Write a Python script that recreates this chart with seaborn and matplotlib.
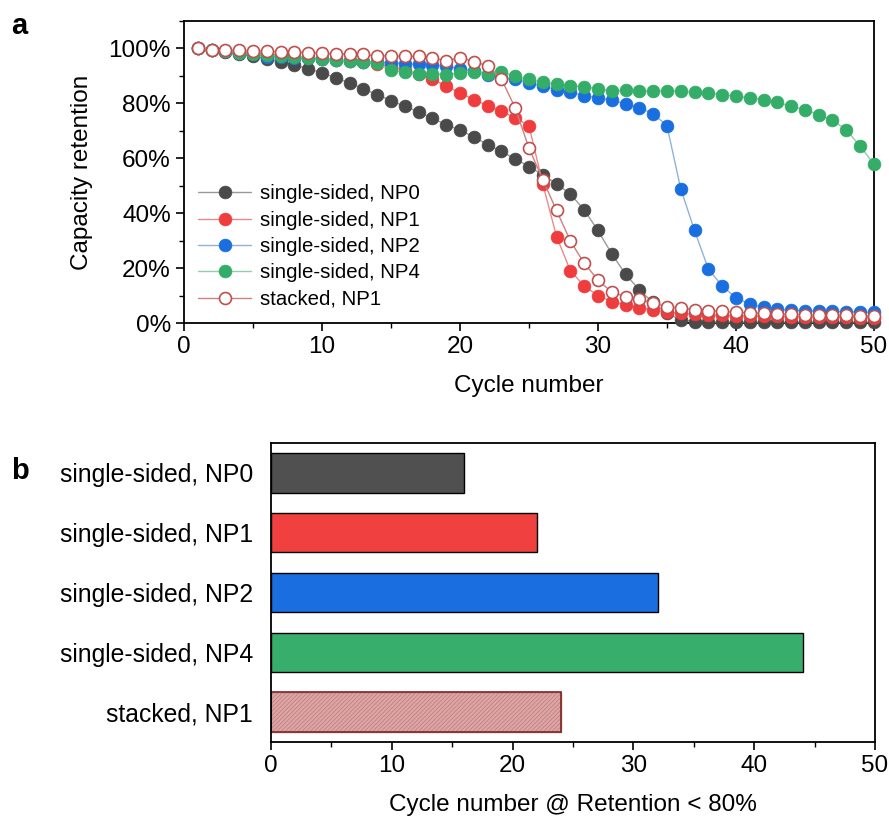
import matplotlib
matplotlib.use("Agg")
import matplotlib.pyplot as plt
import seaborn as sns
import numpy as np
import pandas as pd
from matplotlib.ticker import PercentFormatter, MultipleLocator
from matplotlib.patches import Rectangle

sns.set_style("ticks")
plt.rcParams['font.family'] = ['Liberation Sans', 'DejaVu Sans']
plt.rcParams['hatch.linewidth'] = 0.5
for k in ['text.color', 'axes.labelcolor', 'xtick.color', 'ytick.color', 'axes.edgecolor']:
    plt.rcParams[k] = 'black'

cycles = list(range(1, 51))

np0 = [100, 99.3, 98.6, 97.8, 97.2, 96.2, 95.1, 93.9, 92.6, 91.1,
       89.3, 87.5, 85.3, 83.2, 81.0, 78.9, 76.9, 74.5, 72.3, 70.2,
       67.8, 65.0, 62.5, 59.8, 57.0, 54.0, 50.7, 47.0, 41.2, 33.7,
       25.2, 17.8, 12.0, 7.5, 3.5, 1.2, 0.5, 0.4, 0.3, 0.3,
       0.3, 0.3, 0.3, 0.3, 0.3, 0.3, 0.3, 0.3, 0.3, 0.3]

np1 = [100, 99.6, 99.2, 98.8, 98.4, 98.0, 97.5, 97.0, 96.6, 96.2,
       95.8, 95.4, 95.0, 94.3, 93.4, 92.2, 90.6, 88.9, 86.3, 83.8,
       81.4, 79.2, 77.1, 74.7, 71.9, 50.7, 31.5, 19.1, 13.5, 10.0,
       7.8, 6.6, 5.6, 4.7, 4.0, 3.5, 3.2, 3.0, 2.8, 2.7,
       2.6, 2.5, 2.4, 2.3, 2.2, 2.2, 2.1, 2.1, 2.0, 2.0]

np2 = [100, 99.4, 98.9, 98.4, 97.9, 97.0, 96.9, 96.7, 96.4, 96.0,
       95.7, 95.4, 95.2, 95.0, 94.8, 94.5, 94.2, 94.0, 93.6, 92.6,
       91.7, 90.5, 89.3, 88.7, 87.5, 86.3, 85.0, 84.1, 82.8, 82.0,
       81.1, 79.9, 78.4, 76.2, 71.9, 48.9, 33.7, 19.7, 13.5, 9.2,
       6.9, 5.7, 5.1, 4.7, 4.5, 4.3, 4.2, 4.1, 4.0, 3.9]

np4 = [100, 99.5, 99.0, 98.5, 98.0, 97.6, 97.2, 96.8, 96.4, 96.0,
       95.7, 95.3, 95.0, 94.6, 92.1, 91.4, 90.6, 90.8, 90.5, 91.0,
       91.4, 90.7, 91.5, 89.9, 88.7, 87.7, 86.9, 86.5, 86.0, 85.3,
       84.5, 84.7, 84.6, 84.4, 84.6, 84.4, 84.1, 83.8, 83.2, 82.6,
       82.0, 81.4, 80.4, 78.9, 77.7, 75.9, 73.8, 70.4, 64.4, 57.9]

stacked_np1 = [100, 99.6, 99.4, 99.3, 99.2, 98.9, 98.8, 98.6, 98.5, 98.2,
               98.1, 97.9, 97.8, 97.3, 97.3, 97.1, 97.1, 96.7, 95.4, 96.7,
               95.2, 93.7, 88.9, 78.4, 63.7, 52.2, 41.0, 29.9, 21.8, 15.7,
               11.2, 9.6, 8.6, 7.2, 6.0, 5.4, 4.9, 4.5, 4.2, 3.9,
               3.7, 3.5, 3.3, 3.2, 3.1, 3.0, 2.9, 2.8, 2.7, 2.6]

series_labels = ["single-sided, NP0", "single-sided, NP1", "single-sided, NP2",
                 "single-sided, NP4", "stacked, NP1"]
bar_values = [16, 22, 32, 44, 24]

marker_colors = ["#4a4a4a", "#f03c3c", "#1a6fe0", "#33ad68", "#c0504d"]
line_colors = ["#9a9a9a", "#e98a8a", "#8fb3d8", "#8fcfaa", "#cf7f7f"]
bar_colors = ["#505050", "#f04040", "#1b6ee0", "#38ae6c", "#dca6a6"]

fig = plt.figure(figsize=(8.89, 8.23), dpi=100)
ax1 = fig.add_axes([0.207, 0.6075, 0.776, 0.367])
ax2 = fig.add_axes([0.3048, 0.0984, 0.6795, 0.3633])

all_series = [np0, np1, np2, np4, stacked_np1]
for i, (vals, lab) in enumerate(zip(all_series, series_labels)):
    open_marker = (i == 4)
    sns.lineplot(x=cycles, y=vals, ax=ax1, color=line_colors[i], linewidth=1.0,
                 marker='o', markersize=8.6 if open_marker else 9.2,
                 markerfacecolor='white' if open_marker else marker_colors[i],
                 markeredgecolor=marker_colors[i],
                 markeredgewidth=1.2 if open_marker else 0.5,
                 label=lab, zorder=3 + i, clip_on=False)

ax1.set_xlim(0, 50)
ax1.set_ylim(0, 110)
ax1.xaxis.set_major_locator(MultipleLocator(10))
ax1.xaxis.set_minor_locator(MultipleLocator(5))
ax1.yaxis.set_major_locator(MultipleLocator(20))
ax1.yaxis.set_minor_locator(MultipleLocator(10))
ax1.yaxis.set_major_formatter(PercentFormatter(decimals=0))
ax1.set_yticks([0, 20, 40, 60, 80, 100])
ax1.tick_params(axis='both', which='major', labelsize=17.5, length=6, width=1.2, direction='out')
ax1.tick_params(axis='both', which='minor', length=3.5, width=1.0, direction='out')
for s in ax1.spines.values():
    s.set_linewidth(1.3)
    s.set_color('black')
ax1.set_xlabel("Cycle number", fontsize=17.5, labelpad=12)
ax1.set_ylabel("Capacity retention", fontsize=17.5, labelpad=11)
leg = ax1.legend(loc='lower left', bbox_to_anchor=(0.0, 0.0), frameon=False,
                 fontsize=14.7, handlelength=2.6, handletextpad=0.4,
                 labelspacing=0.36, borderaxespad=0.3)

df_bar = pd.DataFrame({"label": series_labels, "value": bar_values})
sns.barplot(data=df_bar, x="value", y="label", hue="label", palette=bar_colors,
            orient='h', width=0.66, legend=False, ax=ax2,
            edgecolor='black', linewidth=1.0, saturation=1)
patches = list(ax2.patches)
if len(patches) >= 5:
    p = patches[4]
    p.set_hatch('////////')
    p.set_edgecolor('#c07878')
    ax2.add_patch(Rectangle((p.get_x(), p.get_y()), p.get_width(), p.get_height(),
                            fill=False, edgecolor='#7a2a2a', linewidth=1.2, zorder=p.get_zorder() + 1))
ax2.set_xlim(0, 50)
ax2.set_ylim(4.5, -0.5)
ax2.xaxis.set_major_locator(MultipleLocator(10))
ax2.xaxis.set_minor_locator(MultipleLocator(5))
ax2.tick_params(axis='x', which='major', labelsize=17.5, length=6, width=1.2, direction='out')
ax2.tick_params(axis='x', which='minor', length=3.5, width=1.0, direction='out')
ax2.tick_params(axis='y', which='both', labelsize=17.8, length=0, pad=13)
for s in ax2.spines.values():
    s.set_linewidth(1.3)
    s.set_color('black')
ax2.set_xlabel("Cycle number @ Retention < 80%", fontsize=17.5, labelpad=12)
ax2.set_ylabel("")

fig.text(0.012, 0.968, "a", fontsize=21, fontweight='bold', va='center', ha='left')
fig.text(0.012, 0.428, "b", fontsize=21, fontweight='bold', va='center', ha='left')

fig.savefig("out.png", dpi=100)
